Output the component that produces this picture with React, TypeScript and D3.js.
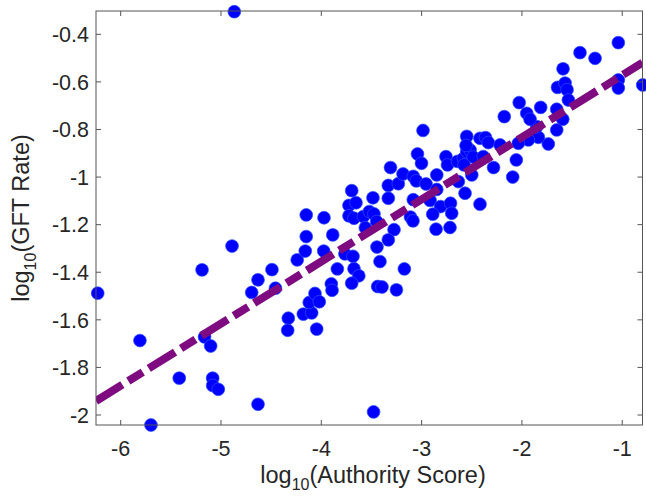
import React from "react";
import * as d3 from "d3";

// log10(Authority Score) for each source
const authorityScore = [
  -6.229, -5.808, -5.698, -5.416, -5.189, -5.164, -5.103, -5.083, -5.083, -5.027,
  -4.89, -4.867, -4.694, -4.631, -4.631, -4.492, -4.457, -4.329, -4.335, -4.24,
  -4.16, -4.179, -4.096, -4.12, -4.063, -4.02, -4.046, -3.976, -3.9, -3.893,
  -3.84, -3.764, -3.684, -3.674, -3.626, -3.697, -3.415, -3.438, -3.395, -3.251,
  -3.172, -3.479, -3.697, -3.485, -3.724, -3.654, -3.724, -3.674, -3.581, -3.521,
  -3.475, -3.448, -3.561, -4.15, -3.973, -4.15, -3.886, -3.445, -3.332, -3.31,
  -3.332, -3.232, -3.185, -3.083, -3.053, -3.041, -3.001, -2.986, -3.083, -3.111,
  -3.086, -3.275, -3.332, -2.956, -2.849, -2.757, -2.742, -2.642, -2.584, -2.55,
  -2.517, -2.55, -2.418, -2.363, -2.335, -2.485, -2.5, -2.283, -2.634, -2.567,
  -2.418, -2.916, -2.812, -2.712, -2.7, -2.889, -2.856, -2.717, -2.849, -1.039,
  -1.421, -1.271, -1.59, -1.645, -1.57, -1.55, -1.537, -1.039, -1.039, -0.796,
  -1.653, -1.593, -1.653, -1.737, -1.813, -1.836, -1.852, -1.952, -1.919, -2.027,
  -2.176, -1.936, -2.036, -2.056, -2.092, -2.218, -2.557, -2.385, -2.577,
];

// log10(GFT Rate) for each source
const gftRate = [
  -1.488, -1.687, -2.042, -1.845, -1.39, -1.672, -1.71, -1.845, -1.876, -1.892,
  -1.29, -0.305, -1.485, -1.432, -1.955, -1.389, -1.467, -1.593, -1.644, -1.348,
  -1.311, -1.576, -1.571, -1.527, -1.489, -1.524, -1.639, -1.311, -1.449, -1.476,
  -1.386, -1.323, -1.333, -1.385, -1.415, -1.446, -1.355, -1.46, -1.462, -1.474,
  -1.386, -1.987, -1.057, -1.087, -1.119, -1.108, -1.163, -1.173, -1.166, -1.145,
  -1.155, -1.187, -1.213, -1.159, -1.171, -1.25, -1.243, -1.294, -1.089, -0.96,
  -1.035, -1.028, -0.987, -0.997, -1.016, -0.903, -0.942, -0.804, -1.095, -1.168,
  -1.184, -1.221, -1.264, -1.029, -0.991, -0.914, -0.949, -0.934, -0.922, -0.893,
  -0.886, -0.829, -0.837, -0.834, -0.855, -0.916, -0.991, -0.96, -1.019, -1.068,
  -1.114, -1.098, -1.124, -1.11, -1.152, -1.156, -1.219, -1.212, -1.052, -0.435,
  -0.477, -0.501, -0.545, -0.623, -0.605, -0.633, -0.676, -0.592, -0.626, -0.613,
  -0.715, -0.757, -0.802, -0.861, -0.707, -0.833, -0.788, -0.732, -0.757, -0.687,
  -0.746, -0.844, -0.858, -0.928, -1.0, -0.865, -0.867, -0.914, -0.949,
];

// least-squares fit: gft = intercept + slope * authority
const fitSlope = 0.261;
const fitIntercept = -0.311;

const xTicks = [-6, -5, -4, -3, -2, -1];
const yTicks = [-2, -1.8, -1.6, -1.4, -1.2, -1, -0.8, -0.6, -0.4];

const W = 646;
const H = 498;
const box = { left: 96, right: 642.5, top: 11, bottom: 425 };
const xDomain: [number, number] = [-6.246, -0.798];
const yDomain: [number, number] = [-2.042, -0.302];

const FONT = "'Liberation Sans', Arial, Helvetica, sans-serif";
const TEXT = "#262626";
const AXIS = "#555555";
const TICK_FONT = 21.5;
const TITLE_FONT = 23.5;
const SUB_FONT = 16;

export default function App() {
  const x = d3.scaleLinear().domain(xDomain).range([box.left, box.right]);
  const y = d3.scaleLinear().domain(yDomain).range([box.bottom, box.top]);

  const points = authorityScore.map((a, i) => ({ a, g: gftRate[i] }));

  const fitLine = d3
    .line<number>()
    .x((d) => x(d))
    .y((d) => y(fitIntercept + fitSlope * d));

  const tickLen = 5;
  const fmt = (v: number) => String(+v.toFixed(1));

  return (
    <div style={{ position: "absolute", left: 0, top: 0 }}>
      <svg width={W} height={H} style={{ display: "block", background: "#fff" }}>
        <defs>
          <clipPath id="plot-area">
            <rect
              x={box.left}
              y={box.top}
              width={box.right - box.left}
              height={box.bottom - box.top}
            />
          </clipPath>
        </defs>

        {/* scatter markers */}
        <g>
          {points.map((p, i) => (
            <circle
              key={i}
              cx={x(p.a)}
              cy={y(p.g)}
              r={6.4}
              fill="#0000ff"
              stroke="#2e4dff"
              strokeWidth={0.7}
            />
          ))}
        </g>

        {/* regression line */}
        <path
          d={fitLine(xDomain) ?? ""}
          clipPath="url(#plot-area)"
          fill="none"
          stroke="#7e0c80"
          strokeWidth={8}
          strokeDasharray="31 7 17 7"
        />

        {/* axes box */}
        <rect
          x={box.left}
          y={box.top}
          width={box.right - box.left}
          height={box.bottom - box.top}
          fill="none"
          stroke={AXIS}
          strokeWidth={1}
        />

        {/* x ticks (bottom and top, inward) */}
        {xTicks.map((t) => (
          <g key={"x" + t}>
            <line x1={x(t)} x2={x(t)} y1={box.bottom} y2={box.bottom - tickLen} stroke={AXIS} />
            <line x1={x(t)} x2={x(t)} y1={box.top} y2={box.top + tickLen} stroke={AXIS} />
            <text
              x={x(t)}
              y={456}
              textAnchor="middle"
              fontFamily={FONT}
              fontSize={TICK_FONT}
              fill={TEXT}
            >
              {fmt(t)}
            </text>
          </g>
        ))}

        {/* y ticks (left and right, inward) */}
        {yTicks.map((t) => (
          <g key={"y" + t}>
            <line x1={box.left} x2={box.left + tickLen} y1={y(t)} y2={y(t)} stroke={AXIS} />
            <line x1={box.right} x2={box.right - tickLen} y1={y(t)} y2={y(t)} stroke={AXIS} />
            <text
              x={89}
              y={y(t)}
              dy="0.36em"
              textAnchor="end"
              fontFamily={FONT}
              fontSize={TICK_FONT}
              fill={TEXT}
            >
              {fmt(t)}
            </text>
          </g>
        ))}

        {/* axis titles */}
        <text
          x={373}
          y={483}
          textAnchor="middle"
          fontFamily={FONT}
          fontSize={TITLE_FONT}
          fill={TEXT}
        >
          log
          <tspan dy={7} fontSize={SUB_FONT}>
            10
          </tspan>
          <tspan dy={-7}>(Authority Score)</tspan>
        </text>

        <text
          transform={`translate(29, ${(box.top + box.bottom) / 2}) rotate(-90)`}
          textAnchor="middle"
          fontFamily={FONT}
          fontSize={TITLE_FONT}
          fill={TEXT}
        >
          log
          <tspan dy={7} fontSize={SUB_FONT}>
            10
          </tspan>
          <tspan dy={-7}>(GFT Rate)</tspan>
        </text>
      </svg>
    </div>
  );
}
